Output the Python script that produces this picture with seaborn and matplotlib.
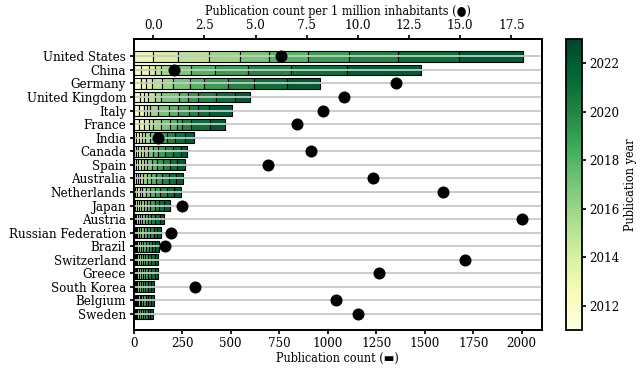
import matplotlib
matplotlib.use("Agg")
import matplotlib.pyplot as plt
import matplotlib.colors as mcolors
import matplotlib.cm as cm
import seaborn as sns
import numpy as np
import pandas as pd

countries = ["United States", "China", "Germany", "United Kingdom", "Italy", "France",
             "India", "Canada", "Spain", "Australia", "Netherlands", "Japan", "Austria",
             "Russian Federation", "Brazil", "Switzerland", "Greece", "South Korea",
             "Belgium", "Sweden"]
years = list(range(2012, 2023))

# publications per year (2012..2022), one list per country
us = [0, 98, 131, 160, 157, 152, 199, 213, 254, 314, 330]
china = [38, 39, 35, 31, 75, 75, 125, 171, 223, 289, 382]
germany = [38, 25, 31, 52, 57, 86, 71, 126, 135, 169, 169]
uk = [31, 21, 22, 34, 35, 89, 48, 50, 92, 99, 76]
italy = [26, 29, 14, 15, 40, 60, 45, 55, 48, 55, 117]
france = [26, 26, 25, 21, 40, 51, 35, 25, 44, 98, 79]
india = [12, 14, 16, 18, 22, 25, 30, 35, 40, 50, 51]
canada = [10, 12, 15, 18, 20, 22, 30, 35, 38, 42, 35]
spain = [12, 10, 14, 16, 18, 22, 28, 30, 35, 40, 38]
australia = [10, 12, 12, 15, 18, 22, 26, 30, 35, 38, 37]
netherlands = [8, 10, 12, 14, 18, 20, 25, 30, 32, 36, 36]
japan = [8, 8, 10, 12, 14, 16, 18, 22, 24, 26, 28]
austria = [6, 7, 8, 10, 12, 14, 16, 18, 20, 22, 22]
russia = [5, 6, 8, 9, 11, 13, 15, 17, 18, 20, 19]
brazil = [5, 6, 7, 9, 10, 12, 14, 15, 16, 18, 17]
switzerland = [4, 6, 7, 8, 10, 12, 13, 15, 16, 18, 17]
greece = [5, 5, 7, 8, 10, 11, 13, 15, 16, 17, 17]
south_korea = [3, 4, 5, 6, 8, 9, 11, 12, 14, 15, 16]
belgium = [4, 5, 6, 7, 8, 9, 11, 12, 13, 14, 14]
sweden = [4, 4, 5, 6, 8, 9, 10, 12, 13, 15, 14]

per_million = [6.26, 1.04, 11.86, 9.31, 8.29, 7.04, 0.23, 7.72, 5.62, 10.72, 14.16,
               1.42, 18.01, 0.89, 0.60, 15.22, 11.05, 2.03, 8.95, 10.0]

counts = pd.DataFrame([us, china, germany, uk, italy, france, india, canada, spain,
                       australia, netherlands, japan, austria, russia, brazil,
                       switzerland, greece, south_korea, belgium, sweden],
                      index=countries, columns=years)

sns.set_theme(style="ticks", rc={"axes.edgecolor": "black", "text.color": "black",
                                 "axes.labelcolor": "black", "xtick.color": "black",
                                 "ytick.color": "black", "axes.linewidth": 1.3,
                                 "xtick.major.size": 3, "ytick.major.size": 3,
                                 "xtick.major.pad": 1.5, "ytick.major.pad": 2.5})
plt.rcParams["font.family"] = ["DejaVu Serif", "DejaVu Sans"]
plt.rcParams["font.stretch"] = "condensed"
fs = 9.5
lfs = 9

fig = plt.figure(figsize=(6.4, 3.69), dpi=100)
ax = fig.add_axes([0.209, 0.105, 0.638, 0.79])
cax = fig.add_axes([0.884, 0.105, 0.025, 0.79])

cmap = plt.get_cmap("YlGn")
norm = mcolors.Normalize(vmin=2011, vmax=2023)

ypos = np.arange(len(countries))
left = np.zeros(len(countries))
for yr in years:
    vals = counts[yr].values
    mask = vals > 0
    ax.barh(ypos[mask], vals[mask], left=left[mask], height=0.8,
            color=cmap(norm(yr)), edgecolor="black", linewidth=0.8)
    left += vals

ax.set_yticks(ypos)
ax.set_yticklabels(countries, fontsize=fs)
ax.set_ylim(len(countries) - 1 + 1.2, -1.3)
ax.set_xlim(0, 2105)
ax.set_xticks(np.arange(0, 2001, 250))
ax.tick_params(labelsize=fs)
ax.set_xlabel("Publication count (▬)", fontsize=lfs, labelpad=2)
ax.yaxis.grid(True, color="#c8c8c8", linewidth=1.3)
ax.set_axisbelow(False)

ax2 = ax.twiny()
sns.scatterplot(x=per_million, y=ypos, ax=ax2, color="black", s=75,
                edgecolor="black", linewidth=0, zorder=3, legend=False)
ax2.set_xlim(-0.95, 19.0)
ax2.set_xticks(np.arange(0, 17.6, 2.5))
ax2.set_xticklabels([f"{v:.1f}" for v in np.arange(0, 17.6, 2.5)])
ax2.tick_params(labelsize=fs)
ax2.set_xlabel("Publication count per 1 million inhabitants (●)", fontsize=lfs, labelpad=3)
ax2.set_ylim(len(countries) - 1 + 1.2, -1.3)

cb = fig.colorbar(cm.ScalarMappable(norm=norm, cmap=cmap), cax=cax)
cb.set_ticks(range(2012, 2023, 2))
cb.set_label("Publication year", fontsize=lfs, labelpad=3)
cb.ax.tick_params(labelsize=fs)
cb.outline.set_linewidth(1.3)

fig.savefig("out.png", dpi=100)
